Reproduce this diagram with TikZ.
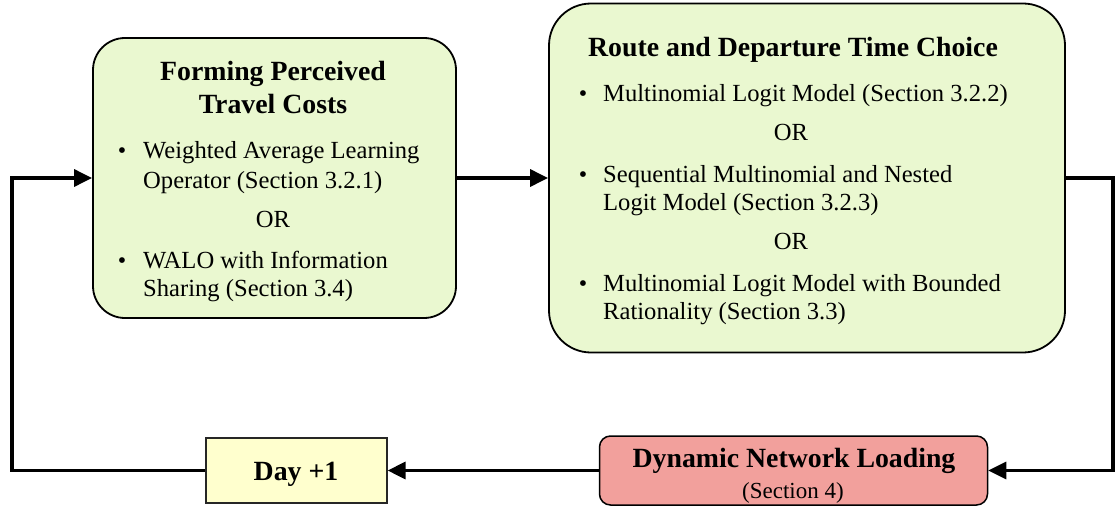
\documentclass[tikz,border=0pt]{standalone}
\usepackage{fontspec}
\setmainfont{Liberation Serif}
\usetikzlibrary{arrows.meta}
\definecolor{boxgreen}{RGB}{234,248,208}
\definecolor{boxred}{RGB}{242,160,156}
\definecolor{boxyellow}{RGB}{255,255,206}
\begin{document}
\begin{tikzpicture}[x=1pt,y=-1pt,
  greenbox/.style={draw=black, line width=1.8pt, fill=boxgreen, inner sep=0pt},
  redbox/.style={draw=black, line width=1.5pt, fill=boxred, rounded corners=11pt, inner sep=0pt, minimum width=388pt, minimum height=69pt},
  yellowbox/.style={draw=black!85, line width=1.2pt, fill=boxyellow, inner sep=0pt, minimum width=181pt, minimum height=65pt},
  body/.style={font=\fontsize{24.6}{28}\selectfont, inner sep=0pt},
  ttl/.style={font=\fontsize{27.8}{32}\selectfont\bfseries, inner sep=0pt},
  bul/.style={font=\fontsize{24}{28}\selectfont, inner sep=0pt},
  link/.style={line width=3.2pt, -{Triangle[length=18pt,width=17pt]}}
]
\useasboundingbox (0,0) rectangle (1116,508);
% boxes
\node[greenbox, rounded corners=32pt, minimum width=363pt, minimum height=280pt] (fpc) at (274.5,178) {};
\node[greenbox, rounded corners=42pt, minimum width=516pt, minimum height=349pt] (rdc) at (807,178) {};
\node[redbox] (dnl) at (793.5,470.5) {};
\node[yellowbox] (day) at (296.5,470.5) {};
% left box text
\node[ttl, anchor=base] (t1a) at (273,81) {Forming Perceived};
\node[ttl, anchor=base] (t1b) at (273,114) {Travel Costs};
\node[bul, anchor=base] (b1) at (122,158) {•};
\node[body, anchor=base west] (l1) at (143,158) {Weighted Average Learning};
\node[body, anchor=base west] (l2) at (143,188) {Operator (Section 3.2.1)};
\node[body, anchor=base] (or1) at (273,227) {OR};
\node[bul, anchor=base] (b2) at (122,268) {•};
\node[body, anchor=base west] (l3) at (143,268) {WALO with Information};
\node[body, anchor=base west] (l4) at (143,296) {Sharing (Section 3.4)};
% right box text
\node[ttl, anchor=base] (t2) at (793,57) {Route and Departure Time Choice};
\node[bul, anchor=base] (b3) at (583,102) {•};
\node[body, anchor=base west] (r1) at (603,102) {Multinomial Logit Model (Section 3.2.2)};
\node[body, anchor=base] (or2) at (791,141) {OR};
\node[bul, anchor=base] (b4) at (583,182) {•};
\node[body, anchor=base west] (r2) at (603,182) {Sequential Multinomial and Nested};
\node[body, anchor=base west] (r3) at (603,210) {Logit Model (Section 3.2.3)};
\node[body, anchor=base] (or3) at (791,249) {OR};
\node[bul, anchor=base] (b5) at (583,291) {•};
\node[body, anchor=base west] (r4) at (603,291) {Multinomial Logit Model with Bounded};
\node[body, anchor=base west] (r5) at (603,319) {Rationality (Section 3.3)};
% bottom text
\node[ttl, anchor=base] (dt) at (794,467) {Dynamic Network Loading};
\node[body, font=\fontsize{23}{26}\selectfont, anchor=base] (ds) at (793,498) {(Section 4)};
\node[ttl, anchor=base] (dy) at (296,480) {Day +1};
% connectors
\coordinate (tl) at (12,178);
\coordinate (tr) at (1113,178);
\draw[link] (fpc.east) -- (rdc.west);
\draw[link] (day.west) -- (day.west -| tl) -- (tl) -- (fpc.west);
\draw[link] (rdc.east) -- (tr) -- (tr |- dnl.east) -- (dnl.east);
\draw[link] (dnl.west) -- (day.east);
\end{tikzpicture}
\end{document}
